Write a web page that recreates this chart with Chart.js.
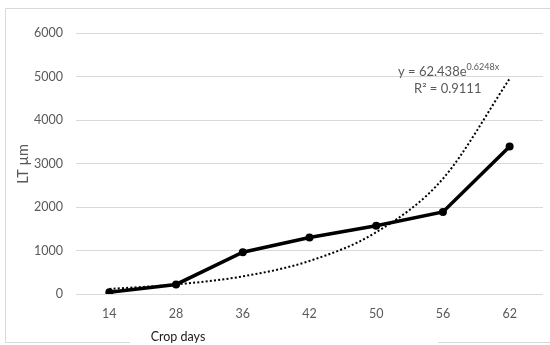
<!DOCTYPE html>
<html>
<head>
<meta charset="utf-8">
<script src="https://cdn.jsdelivr.net/npm/chart.js@4"></script>
<style>
html,body{margin:0;padding:0;background:#fff;}
canvas{display:block;}
</style>
</head>
<body>
<canvas id="c" width="550" height="345"></canvas>
<script>
const cropDays = ['14', '28', '36', '42', '50', '56', '62'];
const ltValues = [40, 220, 960, 1300, 1570, 1885, 3390];
const trendValues = [115, 220, 405, 760, 1420, 2650, 4950];
const yMin = 0, yMax = 6000, yStep = 1000;
const xTitle = 'Crop days';
const yTitle = 'LT µm';
const eqMain = 'y = 62.438e';
const eqExp = '0.6248x';
const eqR2 = 'R² = 0.9111';

const FONT = 'Lato, "Open Sans", sans-serif';
const GRAY = '#595959';
const LINEGRAY = '#d9d9d9';

const decor = {
  id: 'decor',
  beforeDraw(chart) {
    const ctx = chart.ctx;
    ctx.save();
    ctx.fillStyle = '#fff';
    ctx.fillRect(0, 0, chart.width, chart.height);
    ctx.strokeStyle = LINEGRAY;
    ctx.lineWidth = 1;
    ctx.beginPath();
    ctx.moveTo(5.5, 8.5); ctx.lineTo(550, 8.5);
    ctx.moveTo(5.5, 8.5); ctx.lineTo(5.5, 342.5);
    ctx.moveTo(5.5, 342.5); ctx.lineTo(130, 342.5);
    ctx.moveTo(438, 342.5); ctx.lineTo(550, 342.5);
    ctx.stroke();
    ctx.restore();
  },
  afterDraw(chart) {
    const ctx = chart.ctx;
    ctx.save();
    ctx.fillStyle = '#1a1a1a';
    ctx.font = '12.5px ' + FONT;
    ctx.textAlign = 'center';
    ctx.textBaseline = 'middle';
    ctx.fillText(xTitle, 178, 337);
    ctx.save();
    ctx.translate(23, 164);
    ctx.rotate(-Math.PI / 2);
    ctx.fillStyle = GRAY;
    ctx.font = '14.5px ' + FONT;
    ctx.fillText(yTitle, 0, 0);
    ctx.restore();
    ctx.fillStyle = GRAY;
    ctx.textAlign = 'left';
    ctx.textBaseline = 'alphabetic';
    ctx.font = '13px ' + FONT;
    ctx.fillText(eqMain, 398, 76);
    const w = ctx.measureText(eqMain).width;
    ctx.font = '9px ' + FONT;
    ctx.fillText(eqExp, 398 + w, 70);
    ctx.font = '13px ' + FONT;
    ctx.fillText(eqR2, 414, 93);
    ctx.restore();
  }
};

new Chart(document.getElementById('c'), {
  type: 'line',
  data: {
    labels: cropDays,
    datasets: [
      {
        label: 'LT',
        data: ltValues,
        borderColor: '#000',
        backgroundColor: '#000',
        borderWidth: 3.5,
        pointRadius: 4,
        pointBorderWidth: 0,
        pointBackgroundColor: '#000',
        tension: 0,
        order: 1
      },
      {
        label: 'Expon.',
        data: trendValues,
        borderColor: '#000',
        borderWidth: 2,
        borderDash: [2, 2.2],
        pointRadius: 0,
        cubicInterpolationMode: 'monotone',
        fill: false,
        order: 2
      }
    ]
  },
  options: {
    responsive: false,
    animation: false,
    devicePixelRatio: 1,
    layout: { padding: { left: 0, right: 7, top: 33, bottom: 0 } },
    plugins: { legend: { display: false }, tooltip: { enabled: false } },
    scales: {
      x: {
        offset: true,
        grid: { display: false, drawTicks: false },
        border: { display: false },
        ticks: { color: GRAY, font: { family: FONT, size: 12.5 }, padding: 12 },
        afterFit(s) { s.height = 51; }
      },
      y: {
        min: yMin, max: yMax,
        ticks: { stepSize: yStep, color: GRAY, font: { family: FONT, size: 12.5 }, padding: 13,
                 callback: v => String(v) },
        grid: { color: LINEGRAY, lineWidth: 1, drawTicks: false },
        border: { display: false },
        afterFit(s) { s.width = 76; }
      }
    }
  },
  plugins: [decor]
});
</script>
</body>
</html>
